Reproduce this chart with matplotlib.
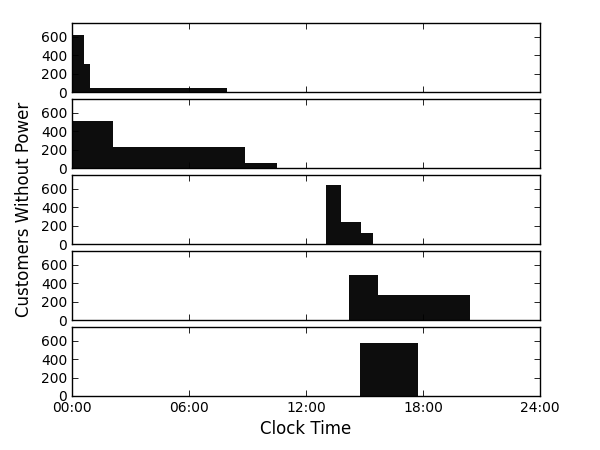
import matplotlib
matplotlib.use("Agg")
import matplotlib.pyplot as plt
from matplotlib.ticker import FuncFormatter

# step edges (hours since midnight) and customer counts for each outage
edges_1 = [0.0, 0.63, 0.92, 7.93]
counts_1 = [620, 300, 40]

edges_2 = [0.0, 2.08, 8.89, 10.5]
counts_2 = [510, 230, 57]

edges_3 = [13.03, 13.78, 14.82, 15.42]
counts_3 = [640, 235, 115]

edges_4 = [14.2, 15.68, 20.41]
counts_4 = [490, 275]

edges_5 = [14.77, 17.73]
counts_5 = [580]

all_edges = [edges_1, edges_2, edges_3, edges_4, edges_5]
all_counts = [counts_1, counts_2, counts_3, counts_4, counts_5]

x_ticks = [0, 6, 12, 18, 24]
y_ticks = [0, 200, 400, 600]

plt.rcParams['font.family'] = ['DejaVu Sans']
plt.rcParams['font.size'] = 10

fig, axes = plt.subplots(5, 1, figsize=(6, 4.5), dpi=100, sharex=True)
fig.subplots_adjust(left=0.12, right=0.9, top=0.949, bottom=0.12, hspace=0.1)

for ax, edges, counts in zip(axes, all_edges, all_counts):
    ax.stairs(counts, edges, fill=True, color='#0d0d0d', linewidth=0)
    ax.set_xlim(0, 24)
    ax.set_ylim(0, 750)
    ax.set_xticks(x_ticks)
    ax.set_yticks(y_ticks)
    ax.tick_params(direction='in', top=True, right=True, length=4, width=0.6, labelsize=10)
    for spine in ax.spines.values():
        spine.set_linewidth(1.0)

axes[-1].xaxis.set_major_formatter(FuncFormatter(lambda h, pos: "%02d:00" % int(h)))
axes[-1].set_xlabel("Clock Time", fontsize=12)
fig.text(0.04, (0.949 + 0.12) / 2, "Customers Without Power", rotation=90,
         ha='center', va='center', fontsize=12)

fig.savefig("out.png", dpi=100, facecolor='white')
